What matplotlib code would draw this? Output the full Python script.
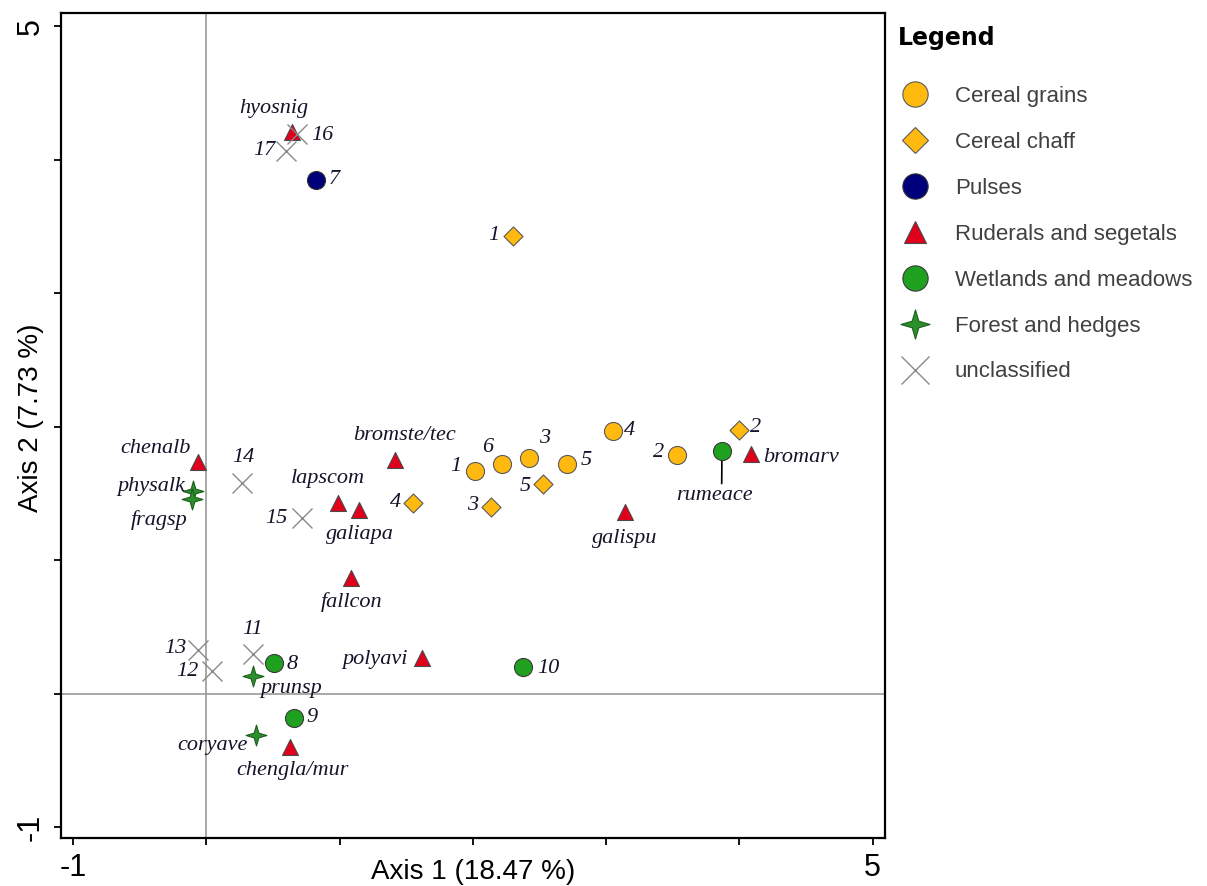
import matplotlib
matplotlib.use("Agg")
import matplotlib.pyplot as plt
from matplotlib.lines import Line2D
from matplotlib.path import Path

# category samples / taxa with their ordination scores
grain_lab = ["1", "6", "3", "5", "4", "2"]
grain_x = [2.02, 2.22, 2.42, 2.71, 3.05, 3.53]
grain_y = [1.67, 1.72, 1.77, 1.72, 1.97, 1.79]

chaff_lab = ["1", "4", "3", "5", "2"]
chaff_x = [2.30, 1.55, 2.14, 2.53, 4.00]
chaff_y = [3.43, 1.43, 1.40, 1.57, 1.98]

pulse_lab = ["7"]
pulse_x = [0.82]
pulse_y = [3.85]

rud_lab = ["hyosnig", "chenalb", "bromste/tec", "lapscom", "galiapa",
           "fallcon", "polyavi", "chengla/mur", "galispu", "bromarv"]
rud_x = [0.64, -0.06, 1.42, 0.99, 1.15, 1.09, 1.62, 0.63, 3.14, 4.09]
rud_y = [4.21, 1.74, 1.75, 1.43, 1.38, 0.87, 0.27, -0.40, 1.36, 1.80]

wet_lab = ["rumeace", "8", "9", "10"]
wet_x = [3.87, 0.51, 0.66, 2.38]
wet_y = [1.82, 0.23, -0.18, 0.20]

forest_lab = ["physalk", "fragsp", "prunsp", "coryave"]
forest_x = [-0.10, -0.11, 0.35, 0.37]
forest_y = [1.52, 1.46, 0.13, -0.31]

uncl_lab = ["16", "17", "14", "15", "11", "13", "12"]
uncl_x = [0.68, 0.60, 0.27, 0.72, 0.35, -0.06, 0.04]
uncl_y = [4.19, 4.07, 1.58, 1.32, 0.30, 0.33, 0.17]

# label placement: (dx, dy) in pixels, horizontal alignment
label_pos = {
    "grain": [(-14, 4, "right"), (-14, 17, "center"), (16, 19, "center"),
              (13, 4, "left"), (11, 0, "left"), (-13, 2, "right")],
    "chaff": [(-13, 0, "right"), (-12, 0, "right"), (-13, 1, "right"),
              (-13, -2, "right"), (11, 2, "left")],
    "pulse": [(13, 0, "left")],
    "rud": [(-18, 23, "center"), (-8, 13, "right"), (9, 25, "center"),
            (-10, 24, "center"), (0, -25, "center"), (0, -24, "center"),
            (-14, -2, "right"), (2, -23, "center"), (0, -26, "center"),
            (12, -4, "left")],
    "wet": [(-8, -45, "center"), (12, -1, "left"), (12, 0, "left"),
            (14, -1, "left")],
    "forest": [(-8, 4, "right"), (-4, -21, "right"), (38, -12, "center"),
               (-8, -10, "right")],
    "uncl": [(14, -1, "left"), (-11, 0, "right"), (1, 25, "center"),
             (-15, -1, "right"), (0, 24, "center"), (-12, 1, "right"),
             (-13, 0, "right")],
}

star4 = Path.unit_regular_star(4, 0.32)

styles = {
    "grain": dict(marker="o", s=13 ** 2, fc="#FFB90F", ec="#5a5a5a", lw=0.8),
    "chaff": dict(marker="D", s=9.7 ** 2, fc="#FFB90F", ec="#5a5a5a", lw=0.8),
    "pulse": dict(marker="o", s=13 ** 2, fc="#00007A", ec="#333333", lw=0.8),
    "rud": dict(marker="^", s=11.5 ** 2, fc="#E0001B", ec="#4a4a4a", lw=0.8),
    "wet": dict(marker="o", s=13 ** 2, fc="#1FA01F", ec="#3a3a3a", lw=0.8),
    "forest": dict(marker=star4, s=15 ** 2, fc="#2B8F2B", ec="#1d5e1d", lw=0.8),
    "uncl": dict(marker="x", s=14.4 ** 2, fc="#8a8a8a", ec="#8a8a8a", lw=1.0),
}

series = [
    ("grain", "Cereal grains", grain_x, grain_y, grain_lab),
    ("chaff", "Cereal chaff", chaff_x, chaff_y, chaff_lab),
    ("pulse", "Pulses", pulse_x, pulse_y, pulse_lab),
    ("rud", "Ruderals and segetals", rud_x, rud_y, rud_lab),
    ("wet", "Wetlands and meadows", wet_x, wet_y, wet_lab),
    ("forest", "Forest and hedges", forest_x, forest_y, forest_lab),
    ("uncl", "unclassified", uncl_x, uncl_y, uncl_lab),
]

fig = plt.figure(figsize=(12.07, 8.86), dpi=100)
ax = fig.add_axes([0.0505, 0.0542, 0.6824, 0.9311])

ax.axhline(0, color="#9a9a9a", lw=1.2, zorder=0)
ax.axvline(0, color="#9a9a9a", lw=1.2, zorder=0)

label_font = dict(family="Liberation Serif", style="italic", size=16,
                  color="#14142a")

handles = []
for i, (key, name, xs, ys, labs) in enumerate(series):
    st = styles[key]
    if key == "uncl":
        ax.scatter(xs, ys, marker=st["marker"], s=st["s"], c=st["ec"],
                   linewidths=st["lw"], zorder=3 + i)
    else:
        ax.scatter(xs, ys, marker=st["marker"], s=st["s"], facecolors=st["fc"],
                   edgecolors=st["ec"], linewidths=st["lw"], zorder=3 + i)
    for (x, y, lab, (dx, dy, ha)) in zip(xs, ys, labs, label_pos[key]):
        if lab == "rumeace":
            ax.annotate(lab, (x, y), xytext=(dx, dy), textcoords="offset pixels",
                        ha=ha, va="center", zorder=2,
                        arrowprops=dict(arrowstyle="-", color="black", lw=1.2,
                                        relpos=(0.6, 1.0), shrinkA=0, shrinkB=0),
                        **label_font)
        else:
            ax.annotate(lab, (x, y), xytext=(dx, dy), textcoords="offset pixels",
                        ha=ha, va="center", zorder=20, **label_font)
    ms = st["s"] ** 0.5 * 1.4
    handles.append(Line2D([], [], ls="none", marker=st["marker"], markersize=ms,
                          markerfacecolor=st["fc"], markeredgecolor=st["ec"],
                          markeredgewidth=st["lw"], label=name))

ax.set_xlim(-1.09, 5.09)
ax.set_ylim(-1.08, 5.1)

ax.set_xticks(range(-1, 6))
ax.set_xticklabels(["-1", "", "", "", "", "", "5"])
ax.set_yticks(range(-1, 6))
ax.set_yticklabels(["-1", "", "", "", "", "", "5"], rotation=90, va="center")
ax.tick_params(direction="out", length=5, width=1.3, colors="black",
               labelsize=22, pad=6)
for lab in ax.get_xticklabels() + ax.get_yticklabels():
    lab.set_family("Liberation Sans")
for sp in ax.spines.values():
    sp.set_linewidth(1.6)

ax.set_xlabel("Axis 1 (18.47 %)", family="Liberation Sans", size=20)
ax.set_ylabel("Axis 2 (7.73 %)", family="Liberation Sans", size=20)
ax.xaxis.set_label_coords(0.5, -0.025)
ax.yaxis.set_label_coords(-0.021, 0.51)

leg = ax.legend(handles=handles, loc="upper left",
                bbox_to_anchor=(898 / 1207, 1 - 26 / 886),
                bbox_transform=fig.transFigure, frameon=False,
                title="Legend", alignment="left",
                title_fontproperties=dict(family="DejaVu Sans", weight="bold", size=17),
                prop=dict(family="Liberation Sans", size=16),
                labelcolor="#404040", handlelength=1.5, handletextpad=1.05,
                labelspacing=1.12, borderpad=0, borderaxespad=0)
leg._legend_box.sep = 26

fig.savefig("out.png", dpi=100)
